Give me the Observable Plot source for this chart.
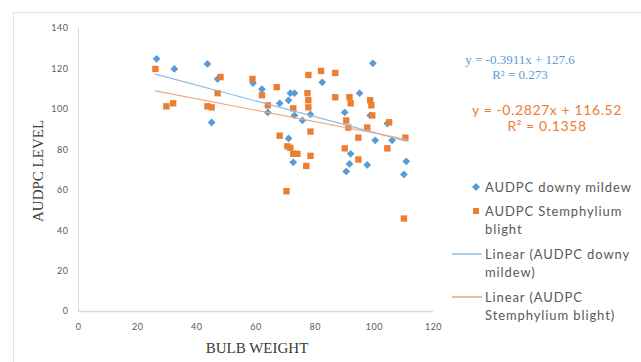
<!DOCTYPE html>
<html><head><meta charset="utf-8">
<script src="https://cdn.jsdelivr.net/npm/d3@7"></script>
<script src="https://cdn.jsdelivr.net/npm/@observablehq/plot@0.6"></script>
<style>
body{margin:0;background:#fff;}
#wrap{position:relative;width:641px;height:362px;overflow:hidden;font-family:Lato,sans-serif;}
.abs{position:absolute;white-space:nowrap;}
#frame{position:absolute;left:13px;top:12px;width:640px;height:360px;border:1px solid #e3e3e3;box-sizing:border-box;}
.leg{position:absolute;left:485px;font-family:Lato,sans-serif;font-size:13px;color:#595959;line-height:18px;letter-spacing:0.9px;white-space:nowrap;}
.eq{position:absolute;text-align:center;width:200px;white-space:nowrap;}
</style></head><body><div id="wrap"><div id="frame"></div></div>
<script>
// Series: AUDPC downy mildew
const downyX = [26.4, 32.4, 43.6, 45, 47, 59, 62, 64, 68, 71, 71.6, 73, 73, 71, 72.6, 75.7, 78.4, 82.4, 90, 95, 98.6, 99.5, 100.3, 106, 104.4, 110.8, 110, 92, 91.6, 97.6, 90.5];
const downyY = [125, 120, 122.5, 93.5, 115, 113, 110, 98.5, 103, 104.5, 108, 108, 97, 85.6, 73.8, 94.5, 97.5, 113.4, 98.5, 108, 97, 122.8, 84.7, 84.7, 93, 74.3, 67.8, 78, 73, 72.5, 69.3];
// Series: AUDPC Stemphylium blight
const stemX = [26, 29.7, 32, 43.6, 45, 47, 48, 58.8, 62, 64, 67, 68, 70.6, 70.3, 72.6, 72.6, 74, 71.6, 77.7, 77.4, 77.7, 77.7, 78.4, 78.4, 77, 82, 86.8, 86.8, 91.6, 92, 98.6, 99, 99.3, 90.5, 91.2, 97.6, 94.6, 90, 94.6, 104.4, 105, 110.5, 110];
const stemY = [120, 101.5, 103, 101.5, 101, 108, 116, 115, 107, 102, 111, 87, 81.7, 59.5, 100.5, 78, 78, 81, 117, 108, 104.5, 101, 89, 77, 72, 119, 118, 106, 106, 103, 104.5, 102, 97, 94.5, 91, 91, 86, 80.7, 75.2, 80.7, 93.6, 86, 46];
// Trendlines (as printed on the chart)
const downySlope = -0.3911, downyIntercept = 127.6, downyR2 = "0.273";
const stemSlope = -0.2827, stemIntercept = 116.52, stemR2 = "0.1358";
const xTicks = [0, 20, 40, 60, 80, 100, 120];
const yTicks = [0, 20, 40, 60, 80, 100, 120, 140];
const seriesNames = ["AUDPC downy mildew", "AUDPC Stemphylium blight"];

const blue = "#5b9bd5", orange = "#ed7d31";
const downy = downyX.map((x, i) => ({x, y: downyY[i]}));
const stem = stemX.map((x, i) => ({x, y: stemY[i]}));
const ext = d3.extent([...downyX, ...stemX]);
const lineDowny = ext.map(x => ({x, y: downySlope * x + downyIntercept}));
const lineStem = ext.map(x => ({x, y: stemSlope * x + stemIntercept}));
const diamond = {draw(ctx, size) { const s = Math.sqrt(size / 2); ctx.moveTo(0, -s); ctx.lineTo(s, 0); ctx.lineTo(0, s); ctx.lineTo(-s, 0); ctx.closePath(); }};

const plot = Plot.plot({
  width: 641, height: 362,
  marginLeft: 78, marginRight: 208, marginTop: 28, marginBottom: 51,
  x: {domain: [0, 120]},
  y: {domain: [0, 140]},
  style: {background: "transparent", fontFamily: "Lato, sans-serif", fontSize: "9px", color: "#595959", letterSpacing: "0.5px"},
  marks: [
    Plot.ruleY([0], {stroke: "#d9d9d9", strokeWidth: 1.5}),
    Plot.ruleX([0], {stroke: "#d9d9d9"}),
    Plot.axisX({ticks: xTicks, tickSize: 0, tickPadding: 12, label: null}),
    Plot.axisY({ticks: yTicks, tickSize: 0, tickPadding: 10, label: null}),
    Plot.dot(downy, {x: "x", y: "y", symbol: diamond, r: 3.1, fill: blue}),
    Plot.dot(stem, {x: "x", y: "y", symbol: "square", r: 3.6, fill: orange}),
    Plot.line(lineDowny, {x: "x", y: "y", stroke: "#8fbbe3", strokeWidth: 1.2}),
    Plot.line(lineStem, {x: "x", y: "y", stroke: "#f2a679", strokeWidth: 1.2})
  ]
});
plot.style.position = "absolute"; plot.style.left = "0"; plot.style.top = "0";
const wrap = document.getElementById("wrap");
wrap.appendChild(plot);

function add(html, css, cls) {
  const d = document.createElement("div");
  d.className = cls || "abs";
  d.innerHTML = html;
  Object.assign(d.style, css);
  wrap.appendChild(d);
  return d;
}
// axis titles
add("AUDPC LEVEL", {left: "38px", top: "171px", transform: "translate(-50%,-50%) rotate(-90deg)", fontFamily: "'Liberation Serif', serif", fontSize: "15px", color: "#3a3a3a"});
add("BULB WEIGHT", {left: "257px", top: "348px", transform: "translate(-50%,-50%)", fontFamily: "'Liberation Serif', serif", fontSize: "15px", color: "#3a3a3a"});
// equations
add(`y = ${downySlope}x + ${downyIntercept}<br>R² = ${downyR2}`, {left: "420px", top: "52px", fontFamily: "'Liberation Serif', serif", fontSize: "13px", color: blue, lineHeight: "15px"}, "eq");
add(`y = ${stemSlope}x + ${stemIntercept}<br>R² = ${stemR2}`, {left: "447px", top: "102px", fontFamily: "Lato, sans-serif", fontSize: "14px", color: orange, lineHeight: "16px", letterSpacing: "0.6px"}, "eq");
// legend
const sym = (svg) => `<svg width="30" height="12" style="position:absolute;left:-33px;top:3px">${svg}</svg>`;
add(sym(`<path d="M${24},2 L28,6 L24,10 L20,6Z" fill="${blue}"/>`) + seriesNames[0], {top: "178px"}, "leg");
add(sym(`<rect x="21" y="3" width="6" height="6" fill="${orange}"/>`) + "AUDPC Stemphylium<br>blight", {top: "202px"}, "leg");
add(sym(`<line x1="0" x2="30" y1="6" y2="6" stroke="#8fbbe3" stroke-width="1.5"/>`) + "Linear (AUDPC downy<br>mildew)", {top: "245px"}, "leg");
add(sym(`<line x1="0" x2="30" y1="6" y2="6" stroke="#f2a679" stroke-width="1.5"/>`) + "Linear (AUDPC<br>Stemphylium blight)", {top: "288px"}, "leg");
</script></body></html>
